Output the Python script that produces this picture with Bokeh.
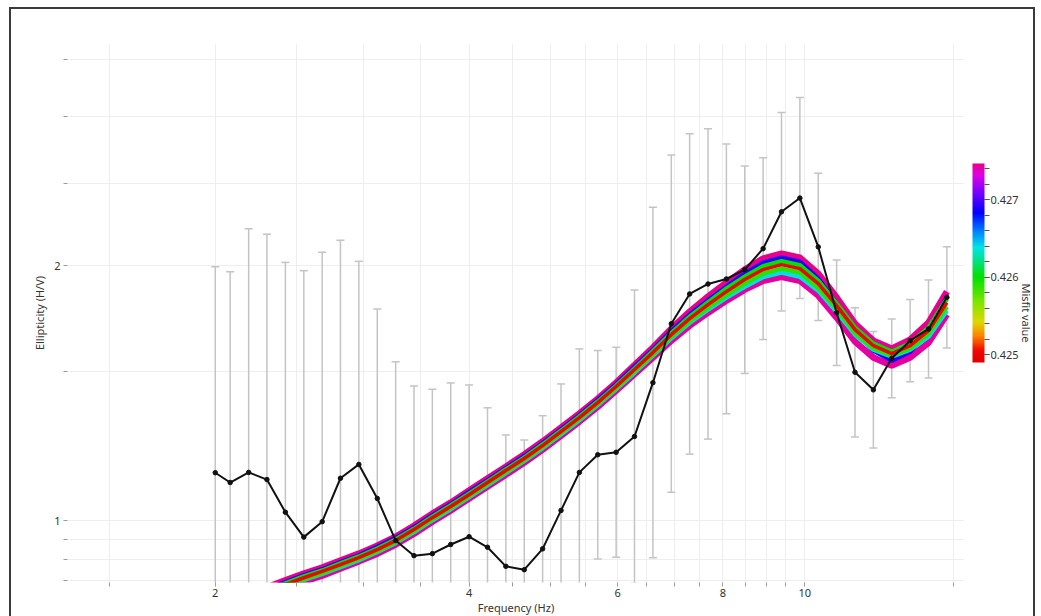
import numpy as np
from bokeh.plotting import figure
from bokeh.layouts import column
from bokeh.models import (ColumnDataSource, FixedTicker, LinearColorMapper, ColorBar,
                          Title, Range1d, PrintfTickFormatter)
from bokeh.transform import linear_cmap
from bokeh.embed import file_html
from bokeh.resources import INLINE

FONT = "Noto Sans"

# ---------------- data ----------------
freq = [2.000, 2.083, 2.191, 2.303, 2.422, 2.547, 2.678, 2.815, 2.960, 3.113,
        3.273, 3.441, 3.618, 3.804, 4.000, 4.206, 4.422, 4.650, 4.889, 5.141,
        5.405, 5.683, 5.976, 6.283, 6.607, 6.947, 7.304, 7.680, 8.075, 8.490,
        8.927, 9.386, 9.869, 10.377, 10.911, 11.472, 12.062, 12.683, 13.336, 14.022, 14.743]

# measured H/V ellipticity and its standard-deviation bounds
ellipticity = [1.139, 1.109, 1.140, 1.118, 1.023, 0.956, 0.997, 1.122, 1.165, 1.062,
               0.947, 0.909, 0.914, 0.937, 0.957, 0.930, 0.883, 0.875, 0.926, 1.028,
               1.140, 1.196, 1.204, 1.257, 1.455, 1.708, 1.852, 1.903, 1.929, 1.979,
               2.095, 2.316, 2.404, 2.105, 1.760, 1.497, 1.427, 1.555, 1.631, 1.684, 1.835]
ell_upper = [1.995, 1.968, 2.212, 2.178, 2.018, 1.973, 2.074, 2.143, 2.024, 1.778,
             1.540, 1.442, 1.429, 1.454, 1.446, 1.359, 1.262, 1.245, 1.330, 1.450,
             1.595, 1.588, 1.602, 1.872, 2.344, 2.703, 2.864, 2.903, 2.785, 2.623,
             2.683, 3.034, 3.161, 2.571, 2.031, 1.784, 1.672, 1.730, 1.824, 1.924, 2.106]
ell_lower = [0.650, 0.625, 0.588, 0.574, 0.518, 0.463, 0.480, 0.588, 0.670, 0.634,
             0.583, 0.573, 0.585, 0.604, 0.634, 0.637, 0.618, 0.614, 0.645, 0.728,
             0.815, 0.901, 0.905, 0.843, 0.904, 1.080, 1.198, 1.248, 1.337, 1.492,
             1.636, 1.768, 1.829, 1.723, 1.525, 1.255, 1.218, 1.397, 1.459, 1.474, 1.599]

# inverted models (ellipticity curves) and their misfits
model_freq = freq[3:]
model_a = [0.834, 0.850, 0.866, 0.880, 0.897, 0.914, 0.934, 0.957, 0.986, 1.019,
           1.050, 1.085, 1.121, 1.158, 1.197, 1.240, 1.288, 1.338, 1.393, 1.455,
           1.526, 1.601, 1.685, 1.765, 1.839, 1.910, 1.979, 2.039, 2.067, 2.044,
           1.957, 1.834, 1.708, 1.631, 1.596, 1.636, 1.713, 1.864]
model_b = [0.816, 0.831, 0.847, 0.861, 0.878, 0.895, 0.914, 0.937, 0.965, 0.997,
           1.028, 1.062, 1.097, 1.133, 1.171, 1.213, 1.260, 1.309, 1.363, 1.424,
           1.489, 1.558, 1.631, 1.699, 1.760, 1.819, 1.874, 1.920, 1.941, 1.920,
           1.844, 1.737, 1.627, 1.558, 1.524, 1.558, 1.622, 1.751]
model_c = [0.830, 0.846, 0.862, 0.876, 0.893, 0.910, 0.931, 0.954, 0.982, 1.015,
           1.046, 1.081, 1.116, 1.153, 1.192, 1.235, 1.282, 1.332, 1.388, 1.449,
           1.520, 1.592, 1.674, 1.751, 1.821, 1.889, 1.957, 2.017, 2.044, 2.022,
           1.931, 1.804, 1.672, 1.588, 1.545, 1.583, 1.667, 1.838]
model_d = [0.819, 0.835, 0.851, 0.865, 0.881, 0.898, 0.918, 0.941, 0.969, 1.001,
           1.032, 1.066, 1.101, 1.138, 1.176, 1.218, 1.265, 1.314, 1.369, 1.430,
           1.495, 1.566, 1.642, 1.713, 1.775, 1.834, 1.889, 1.939, 1.963, 1.941,
           1.869, 1.765, 1.658, 1.592, 1.562, 1.592, 1.649, 1.770]
model_e = [0.827, 0.843, 0.859, 0.873, 0.890, 0.907, 0.927, 0.950, 0.978, 1.011,
           1.042, 1.076, 1.112, 1.149, 1.187, 1.230, 1.277, 1.327, 1.382, 1.443,
           1.512, 1.585, 1.665, 1.741, 1.811, 1.879, 1.941, 1.998, 2.025, 2.003,
           1.920, 1.804, 1.690, 1.618, 1.583, 1.620, 1.690, 1.828]
model_f = [0.821, 0.837, 0.853, 0.867, 0.884, 0.901, 0.920, 0.943, 0.972, 1.004,
           1.035, 1.069, 1.104, 1.141, 1.179, 1.221, 1.269, 1.318, 1.373, 1.434,
           1.501, 1.570, 1.649, 1.720, 1.784, 1.846, 1.905, 1.957, 1.984, 1.963,
           1.884, 1.780, 1.667, 1.598, 1.566, 1.598, 1.663, 1.789]
model_best = [0.825, 0.840, 0.856, 0.871, 0.887, 0.904, 0.924, 0.947, 0.976, 1.008,
              1.039, 1.073, 1.109, 1.146, 1.184, 1.226, 1.274, 1.323, 1.378, 1.440,
              1.508, 1.579, 1.658, 1.732, 1.799, 1.864, 1.926, 1.979, 2.006, 1.984,
              1.905, 1.794, 1.681, 1.609, 1.575, 1.609, 1.676, 1.809]
# worst first, so the best model ends up drawn on top
models = [model_a, model_b, model_c, model_d, model_e, model_f, model_best]
misfits = [0.42746, 0.42743, 0.4269, 0.4264, 0.4260, 0.4259, 0.4250]
model_widths = [6.5, 6.5, 4.5, 4.5, 4.5, 4.5, 3.5]

misfit_low, misfit_high = 0.4249, 0.42747
cbar_ticks = [0.425, 0.426, 0.427]
cbar_minor = [0.4250, 0.4252, 0.4254, 0.4256, 0.4258, 0.4260, 0.4262,
              0.4264, 0.4266, 0.4268, 0.4270, 0.4272, 0.4274]

x_ticks = [2, 4, 6, 8, 10]
x_minor = [1.5, 2.5, 3, 3.5, 4.5, 5, 5.5, 6.5, 7, 7.5, 8.5, 9, 9.5, 15]
y_ticks = [1, 2]
y_minor = [0.85, 0.9, 0.95, 1.5, 2.5, 3, 3.5]

# ---------------- colour scale ----------------
anchors = [(0.0, (225, 0, 0)), (0.06, (240, 10, 0)), (0.13, (255, 128, 0)),
           (0.20, (225, 215, 0)), (0.30, (130, 230, 0)), (0.43, (0, 225, 0)),
           (0.51, (0, 225, 130)), (0.578, (0, 230, 230)), (0.66, (0, 130, 255)),
           (0.754, (0, 0, 255)), (0.863, (130, 0, 255)), (0.946, (225, 0, 225)),
           (1.0, (230, 0, 140))]
ts = np.linspace(0, 1, 256)
at = [a[0] for a in anchors]
chan = [np.interp(ts, at, [a[1][k] for a in anchors]) for k in range(3)]
palette = ["#%02x%02x%02x" % (int(r), int(g), int(b)) for r, g, b in zip(*chan)]
mapper = LinearColorMapper(palette=palette, low=misfit_low, high=misfit_high)

# ---------------- figure ----------------
fig = figure(frame_width=897, frame_height=539, x_axis_type="log", y_axis_type="log",
             x_range=Range1d(1.336, 15.47), y_range=Range1d(0.845, 3.66),
             output_backend="svg", toolbar_location=None,
             min_border_left=56, min_border_right=67, min_border_top=34, min_border_bottom=34,
             background_fill_color="white", border_fill_color="white")
fig.outline_line_color = None
fig.title.visible = False

xt = FixedTicker(ticks=x_ticks, minor_ticks=x_minor)
yt = FixedTicker(ticks=y_ticks, minor_ticks=y_minor)
fig.xaxis.ticker = xt
fig.yaxis.ticker = yt
fig.xgrid.ticker = xt
fig.ygrid.ticker = yt
for g in (fig.xgrid, fig.ygrid):
    g.grid_line_color = "#eeeeee"
    g.minor_grid_line_color = "#eeeeee"

for ax in (fig.xaxis, fig.yaxis):
    ax.axis_line_color = None
    ax.major_tick_line_color = "#9a9a9a"
    ax.minor_tick_line_color = "#9a9a9a"
    ax.major_tick_out = 4
    ax.major_tick_in = 0
    ax.minor_tick_out = 4
    ax.minor_tick_in = 0
    ax.major_label_text_font = FONT
    ax.major_label_text_font_size = "11px"
    ax.major_label_text_color = "#333333"
    ax.formatter = PrintfTickFormatter(format="%d")
fig.xaxis.major_label_standoff = 2
fig.yaxis.major_label_standoff = 3
fig.xaxis.axis_label = "Frequency (Hz)"
fig.xaxis.axis_label_standoff = 0
fig.xaxis.axis_label_text_font = FONT
fig.xaxis.axis_label_text_font_size = "11px"
fig.xaxis.axis_label_text_font_style = "normal"
fig.xaxis.axis_label_text_color = "#333333"

# error bars
fig.segment(x0=freq, y0=ell_lower, x1=freq, y1=ell_upper, line_color="#c4c4c4", line_width=1.5)
fig.scatter(freq + freq, ell_upper + ell_lower, marker="dash", size=8,
            line_color="#c4c4c4", line_width=1.5)

# model band
msrc = ColumnDataSource(dict(xs=[model_freq] * len(models), ys=models,
                             misfit=misfits, lw=model_widths))
fig.multi_line(xs="xs", ys="ys", source=msrc, line_width="lw",
               line_color=linear_cmap("misfit", palette, misfit_low, misfit_high))

# measured curve
fig.line(freq, ellipticity, line_color="#111111", line_width=2)
fig.scatter(freq, ellipticity, size=4.5, fill_color="#111111", line_color="#111111")

# colour bar
cb = ColorBar(color_mapper=mapper, width=12, height=199, location=(8, 220),
              margin=0, padding=0,
              ticker=FixedTicker(ticks=cbar_ticks, minor_ticks=cbar_minor),
              formatter=PrintfTickFormatter(format="%.3f"),
              major_tick_out=5, major_tick_in=0, minor_tick_out=5, minor_tick_in=0,
              major_tick_line_color="#555555", minor_tick_line_color="#555555",
              bar_line_color=None, border_line_color=None, background_fill_color=None,
              label_standoff=1, major_label_text_font=FONT,
              major_label_text_font_size="11px", major_label_text_color="#333333")
fig.add_layout(cb, "right")

# side titles
fig.add_layout(Title(text="Ellipticity (H/V)", align="center", offset=48, standoff=9,
                     text_font=FONT, text_font_size="11px", text_font_style="normal",
                     text_color="#333333"), "left")
fig.add_layout(Title(text="Misfit value", align="center", offset=-50, standoff=-5,
                     text_font=FONT, text_font_size="11px", text_font_style="normal",
                     text_color="#333333"), "right")

# framed page
p = column(fig, margin=(7, 0, 0, 9),
           styles={"border-top": "2px solid #3a3a3a", "border-left": "2px solid #3a3a3a",
                   "border-right": "2px solid #3a3a3a"})

open("out.html", "w").write(file_html(p, INLINE))
